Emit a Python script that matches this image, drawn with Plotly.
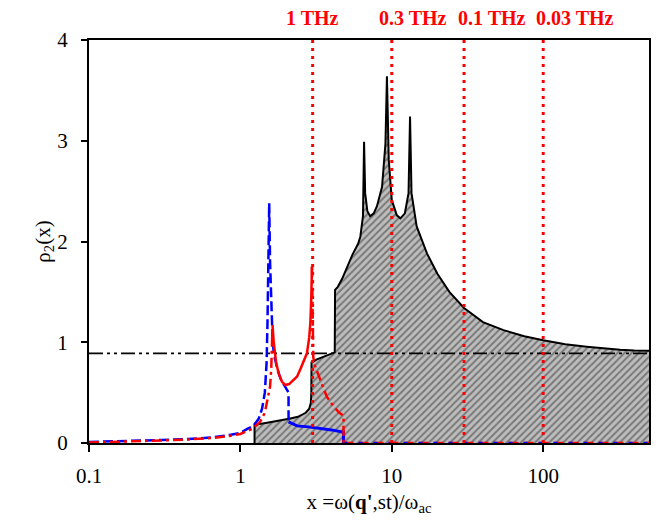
import math
import plotly.graph_objects as go

# ---------------- data ----------------
black_x = [1.24, 1.24, 1.5, 1.8, 2.1, 2.4, 2.7, 2.85, 2.92, 2.94, 2.95, 3.2, 3.6, 4.0, 4.2,
           4.22, 4.4, 4.7, 5.06, 5.5, 6.0, 6.2, 6.45, 6.56, 6.67, 6.9, 7.2, 7.6, 7.98, 8.62,
           9.08, 9.29, 9.55, 10.0, 10.8, 11.4, 12.2, 12.9, 13.2, 13.5, 14.6, 17.1, 20.0,
           24.0, 30.0, 40.0, 54.7, 75.0, 100.0, 140.0, 194.0, 250.0, 322.0, 400.0, 500.0]
black_y = [0.0, 0.18, 0.2, 0.22, 0.24, 0.26, 0.3, 0.34, 0.4, 0.5, 0.8, 0.83, 0.86, 0.88, 0.9,
           1.52, 1.55, 1.63, 1.75, 1.87, 1.98, 2.05, 2.25, 2.99, 2.48, 2.3, 2.25, 2.28, 2.35, 2.54,
           2.97, 3.64, 2.81, 2.41, 2.26, 2.23, 2.28, 2.48, 3.24, 2.48, 2.15, 1.88, 1.68,
           1.5, 1.34, 1.2, 1.12, 1.06, 1.02, 0.98, 0.956, 0.94, 0.925, 0.918, 0.916]

blue_dash_x = [0.1, 0.2, 0.3, 0.45, 0.66, 0.85, 1.0, 1.11, 1.22, 1.32, 1.39, 1.45, 1.49, 1.51,
               1.54, 1.55, 1.57, 1.6, 1.63, 1.66, 1.75, 1.84, 1.95, 2.02, 2.08, 2.08]
blue_dash_y = [0.01, 0.02, 0.03, 0.04, 0.056, 0.08, 0.1, 0.14, 0.17, 0.24, 0.34, 0.5, 0.8, 1.2,
               2.0, 2.38, 1.8, 1.3, 1.05, 0.89, 0.74, 0.64, 0.57, 0.53, 0.5, 0.21]
blue_solid_x = [2.08, 2.37, 2.8, 3.37, 4.0, 4.69, 4.8, 4.8]
blue_solid_y = [0.21, 0.17, 0.16, 0.146, 0.13, 0.11, 0.11, 0.0]
blue_base_x = [4.8, 500.0]
blue_base_y = [0.0, 0.0]

red_dd1_x = [0.1, 0.2, 0.3, 0.45, 0.66, 0.85, 1.0, 1.2, 1.35, 1.45, 1.52, 1.57, 1.6, 1.62, 1.63]
red_dd1_y = [0.005, 0.015, 0.025, 0.035, 0.05, 0.07, 0.09, 0.14, 0.21, 0.3, 0.45, 0.56, 0.75, 0.95, 1.17]
red_solid_x = [1.63, 1.66, 1.72, 1.79, 1.88, 1.98, 2.1, 2.23, 2.37, 2.5, 2.62, 2.75, 2.85, 2.9, 2.94, 2.97]
red_solid_y = [1.17, 1.0, 0.8, 0.69, 0.61, 0.575, 0.585, 0.62, 0.66, 0.74, 0.82, 0.89, 1.05, 1.2, 1.45, 1.75]
red_dd2_x = [2.97, 3.0, 3.03, 3.1, 3.37, 3.72, 4.14, 4.5, 4.7, 4.8, 4.8]
red_dd2_y = [1.75, 1.2, 0.85, 0.77, 0.62, 0.46, 0.36, 0.3, 0.28, 0.27, 0.0]
red_base_x = [4.8, 500.0]
red_base_y = [0.0, 0.0]

level_x = [0.1, 500.0]
level_y = [0.89, 0.89]

thz_x = [3, 10, 30, 100]
thz_labels = ["1 THz", "0.3 THz", "0.1 THz", "0.03 THz"]

x_ticks = [0.1, 1, 10, 100]
x_ticklabels = ["0.1", "1", "10", "100"]
y_ticks = [0, 1, 2, 3, 4]

# ---------------- figure ----------------
FONT = "Liberation Serif, Times New Roman, serif"
fig = go.Figure()

fig.add_trace(go.Scatter(
    x=black_x, y=black_y, mode="lines", fill="tozeroy",
    line=dict(color="black", width=2),
    fillcolor="#bdbdbd",
    fillpattern=dict(shape="/", bgcolor="#bdbdbd", fgcolor="#333333", size=5, solidity=0.4),
    showlegend=False))

fig.add_trace(go.Scatter(x=level_x, y=level_y, mode="lines",
                         line=dict(color="black", width=1.6, dash="14px,4px,3px,4px,3px,4px"),
                         showlegend=False))

fig.add_trace(go.Scatter(x=red_base_x, y=red_base_y, mode="lines",
                         line=dict(color="#ff0000", width=2.5, dash="10px,5px"), showlegend=False))
fig.add_trace(go.Scatter(x=blue_base_x, y=blue_base_y, mode="lines",
                         line=dict(color="#0000ff", width=2.5, dash="4px,11px"), showlegend=False))

fig.add_trace(go.Scatter(x=blue_dash_x, y=blue_dash_y, mode="lines",
                         line=dict(color="#0000ff", width=2.5, dash="10px,4px"), showlegend=False))
fig.add_trace(go.Scatter(x=blue_solid_x, y=blue_solid_y, mode="lines",
                         line=dict(color="#0000ff", width=3), showlegend=False))

fig.add_trace(go.Scatter(x=red_dd1_x, y=red_dd1_y, mode="lines",
                         line=dict(color="#ff0000", width=2.5, dash="10px,4px,3px,4px"), showlegend=False))
fig.add_trace(go.Scatter(x=red_solid_x, y=red_solid_y, mode="lines",
                         line=dict(color="#ff0000", width=2.5), showlegend=False))
fig.add_trace(go.Scatter(x=red_dd2_x, y=red_dd2_y, mode="lines",
                         line=dict(color="#ff0000", width=2.5, dash="10px,4px,3px,4px"), showlegend=False))

shift = {3: -29, 10: -15, 30: -8, 100: -9}
for xv, lab in zip(thz_x, thz_labels):
    fig.add_shape(type="line", xref="x", yref="y", x0=xv, x1=xv, y0=0, y1=4,
                  line=dict(color="#ff0000", width=3, dash="3px,5px"), layer="above")
    fig.add_annotation(x=math.log10(xv), y=1, xref="x", yref="paper", text="<b>" + lab + "</b>",
                       showarrow=False, xanchor="left", yanchor="middle",
                       xshift=shift[xv], yshift=22,
                       font=dict(family=FONT, size=20, color="#ff0000"))

# page body has an 8px margin: figure is sized/placed to land the plot area where the reference has it
fig.update_layout(
    width=650, height=508,
    margin=dict(l=81, r=9, t=32, b=73, autoexpand=False),
    paper_bgcolor="white", plot_bgcolor="white",
    font=dict(family=FONT, size=21, color="black"),
    xaxis=dict(type="log", range=[-1, 2.69897], tickvals=x_ticks, ticktext=x_ticklabels,
               automargin=False,
               ticks="outside", ticklen=7, tickwidth=1.5, tickcolor="black",
               ticklabelstandoff=6,
               showline=True, linecolor="black", linewidth=2, mirror=True,
               showgrid=False, zeroline=False,
               tickfont=dict(family=FONT, size=21),
               title=dict(text="x =ω(<b>q'</b>,st)/ω<sub>ac</sub>",
                          font=dict(family=FONT, size=21), standoff=14)),
    yaxis=dict(range=[0, 4], tickvals=y_ticks,
               automargin=False,
               ticks="outside", ticklen=6, tickwidth=1.5, tickcolor="black",
               ticklabelstandoff=9,
               showline=True, linecolor="black", linewidth=2, mirror=True,
               showgrid=False, zeroline=False,
               tickfont=dict(family=FONT, size=21),
               title=dict(text="ρ<sub>2</sub>(x)", font=dict(family=FONT, size=21), standoff=0)),
)

fig.write_html("out.html")
